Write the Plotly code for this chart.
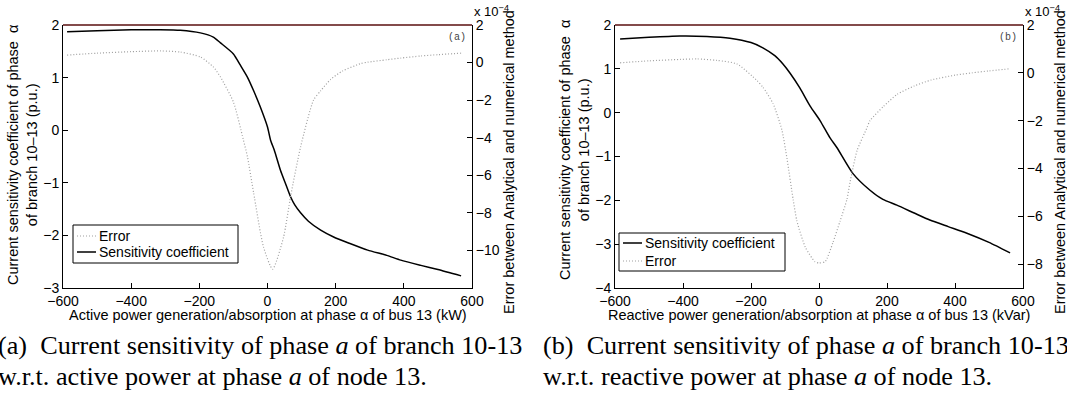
import plotly.graph_objects as go

W, H = 1067, 398

# ---- panel (a): active power sweep (kW) ----
p_kw = [-588, -500, -400, -315, -256, -197, -159, -138, -100, -80, -59, -40, -21, 0, 9,
        20, 38, 55, 68, 80, 97, 120, 156, 194, 240, 294, 350, 391, 450, 500, 568]
sens_a = [1.87, 1.89, 1.91, 1.91, 1.90, 1.85, 1.77, 1.66, 1.45, 1.24, 1.01, 0.74, 0.44, 0.06, -0.19,
          -0.38, -0.76, -1.05, -1.27, -1.42, -1.57, -1.73, -1.90, -2.03, -2.15, -2.28, -2.38, -2.47, -2.57, -2.65, -2.77]
err_a_p = [-588, -500, -400, -315, -256, -197, -159, -138, -100, -71, -59, -41, -12, 15,
           47, 68, 97, 135, 156, 185, 220, 274, 294, 350, 391, 450, 500, 568]
err_a = [0.40, 0.50, 0.58, 0.62, 0.56, 0.30, -0.23, -0.77, -2.10, -4.10, -5.00, -6.90, -9.80, -11.0,
         -9.30, -7.10, -4.50, -2.00, -1.50, -0.90, -0.45, -0.05, 0.02, 0.15, 0.24, 0.35, 0.42, 0.50]

# ---- panel (b): reactive power sweep (kVar) ----
q_kvar = [-585, -500, -409, -330, -262, -200, -165, -130, -106, -85, -56, -26, 3, 32, 53,
          100, 150, 188, 229, 280, 326, 380, 435, 500, 562]
sens_b = [1.68, 1.72, 1.75, 1.74, 1.70, 1.60, 1.48, 1.30, 1.11, 0.90, 0.56, 0.15, -0.18, -0.57, -0.80,
          -1.39, -1.77, -1.98, -2.11, -2.29, -2.45, -2.60, -2.75, -2.96, -3.20]
err_b_q = [-585, -500, -409, -359, -300, -241, -182, -165, -135, -109, -94, -76, -65, -40, -12, 0,
           18, 41, 62, 82, 91, 112, 141, 150, 190, 230, 280, 330, 400, 450, 500, 562]
err_b = [0.42, 0.50, 0.56, 0.58, 0.52, 0.37, -0.33, -0.60, -1.29, -2.40, -3.60, -5.30, -6.20, -7.30, -7.90, -7.95,
         -7.90, -7.10, -6.20, -5.30, -4.60, -3.25, -2.30, -2.00, -1.40, -0.90, -0.55, -0.30, -0.10, 0.00, 0.08, 0.17]

x_ticks = [-600, -400, -200, 0, 200, 400, 600]
BLACK = "#000000"
GREY = "#a0a0a0"
SANS = "Liberation Sans"
SERIF = "Liberation Serif"


def px(x):
    return x / W


def py(y):
    return 1 - y / H


solid = dict(color=BLACK, width=1.5, shape="spline", smoothing=0.6)
dotted = dict(color=GREY, width=1.2, dash="1px,2px", shape="spline", smoothing=0.6)

fig = go.Figure()
fig.add_trace(go.Scatter(x=p_kw, y=sens_a, mode="lines", name="Sensitivity coefficient",
                         line=solid, xaxis="x", yaxis="y"))
fig.add_trace(go.Scatter(x=err_a_p, y=err_a, mode="lines", name="Error",
                         line=dotted, xaxis="x", yaxis="y2"))
fig.add_trace(go.Scatter(x=q_kvar, y=sens_b, mode="lines", name="Sensitivity coefficient",
                         line=solid, xaxis="x2", yaxis="y3"))
fig.add_trace(go.Scatter(x=err_b_q, y=err_b, mode="lines", name="Error",
                         line=dotted, xaxis="x2", yaxis="y4"))

tick_font = dict(family=SANS, size=14, color=BLACK)
common = dict(showgrid=False, zeroline=False, showline=True, linecolor=BLACK, linewidth=1,
              ticks="inside", ticklen=5, tickcolor=BLACK, tickfont=tick_font, automargin=False)

dom_a = [px(63), px(472)]
dom_b = [px(615), px(1023)]
ydom = [py(288), py(25)]

fig.update_layout(
    width=W, height=H, margin=dict(l=0, r=0, t=0, b=0, pad=0), autosize=False,
    paper_bgcolor="white", plot_bgcolor="white", showlegend=False,
    xaxis=dict(domain=dom_a, range=[-600, 600], tickvals=x_ticks, anchor="y", **common),
    yaxis=dict(domain=ydom, range=[-3, 2], tickvals=[-3, -2, -1, 0, 1, 2], anchor="x", **common),
    yaxis2=dict(range=[-12, 2], tickvals=[2, 0, -2, -4, -6, -8, -10], overlaying="y",
                side="right", anchor="x", **common),
    xaxis2=dict(domain=dom_b, range=[-600, 600], tickvals=x_ticks, anchor="y3", **common),
    yaxis3=dict(domain=ydom, range=[-4, 2], tickvals=[-4, -3, -2, -1, 0, 1, 2], anchor="x2", **common),
    yaxis4=dict(range=[-9, 2], tickvals=[2, 0, -2, -4, -6, -8], overlaying="y3",
                side="right", anchor="x2", **common),
)

shapes = []
ann = []

# top border of each axes box
for x0, x1 in [(63, 472), (615, 1023)]:
    shapes.append(dict(type="line", xref="paper", yref="paper", x0=px(x0), x1=px(x1),
                       y0=py(25), y1=py(25), line=dict(color="#5a0f0f", width=1.5)))


def legend_box(x0, x1, y0, y1, rows):
    shapes.append(dict(type="rect", xref="paper", yref="paper", x0=px(x0), x1=px(x1),
                       y0=py(y1), y1=py(y0), line=dict(color=BLACK, width=1), fillcolor="white"))
    for yy, label, style in rows:
        st = {k: v for k, v in style.items() if k not in ("shape", "smoothing")}
        shapes.append(dict(type="line", xref="paper", yref="paper", x0=px(x0 + 4), x1=px(x0 + 23),
                           y0=py(yy), y1=py(yy), line=st))
        ann.append(dict(text=label, xref="paper", yref="paper", x=px(x0 + 24), y=py(yy),
                        xanchor="left", yanchor="middle", showarrow=False,
                        font=dict(family=SANS, size=14, color=BLACK)))


legend_box(73, 238, 225, 263, [(236, "Error", dotted), (252, "Sensitivity coefficient", solid)])
legend_box(619, 785, 233, 271, [(243, "Sensitivity coefficient", solid), (261, "Error", dotted)])

title_font = dict(family=SANS, size=14.5, color=BLACK)
# x-axis titles
ann.append(dict(text="Active power generation/absorption at phase α of bus 13 (kW)",
                xref="paper", yref="paper", x=px(267.5), y=py(315), showarrow=False,
                xanchor="center", yanchor="middle", font=title_font))
ann.append(dict(text="Reactive power generation/absorption at phase α of bus 13 (kVar)",
                xref="paper", yref="paper", x=px(819), y=py(315), showarrow=False,
                xanchor="center", yanchor="middle", font=title_font))
# left y-axis titles
for xc, yc in [(22, 155), (574, 150)]:
    ann.append(dict(text="Current sensitivity coefficient of phase  α<br>of branch 10–13 (p.u.)",
                    xref="paper", yref="paper", x=px(xc), y=py(yc), showarrow=False,
                    textangle=-90, xanchor="center", yanchor="middle", font=title_font))
# right y-axis titles
for xc, yc in [(509, 162), (1060, 162)]:
    ann.append(dict(text="Error between Analytical and numerical method",
                    xref="paper", yref="paper", x=px(xc), y=py(yc), showarrow=False,
                    textangle=-90, xanchor="center", yanchor="middle", font=title_font))
# exponent markers on the right axes
for xl in [472, 1023]:
    ann.append(dict(text="x 10<sup>−4</sup>", xref="paper", yref="paper", x=px(xl), y=py(21),
                    showarrow=False, xanchor="left", yanchor="bottom",
                    font=dict(family=SANS, size=13, color=BLACK)))
# panel tags
for xr, tag in [(468, "(a)"), (1019, "(b)")]:
    ann.append(dict(text=tag, xref="paper", yref="paper", x=px(xr), y=py(37), showarrow=False,
                    xanchor="right", yanchor="middle",
                    font=dict(family="Liberation Mono", size=10, color="#444444")))
# sub-figure captions
cap_font = dict(family=SERIF, size=26.2, color=BLACK)
captions = [
    (-4, "(a)  Current sensitivity of phase <i>a</i> of branch 10-13",
     "w.r.t. active power at phase <i>a</i> of node 13."),
    (541, "(b)  Current sensitivity of phase <i>a</i> of branch 10-13",
     "w.r.t. reactive power at phase <i>a</i> of node 13."),
]
for xl, l1, l2 in captions:
    ann.append(dict(text=l1, xref="paper", yref="paper", x=px(xl), y=py(345), showarrow=False,
                    xanchor="left", yanchor="middle", font=cap_font))
    ann.append(dict(text=l2, xref="paper", yref="paper", x=px(xl), y=py(376), showarrow=False,
                    xanchor="left", yanchor="middle", font=cap_font))

fig.update_layout(shapes=shapes, annotations=ann)
fig.write_html("out.html")
